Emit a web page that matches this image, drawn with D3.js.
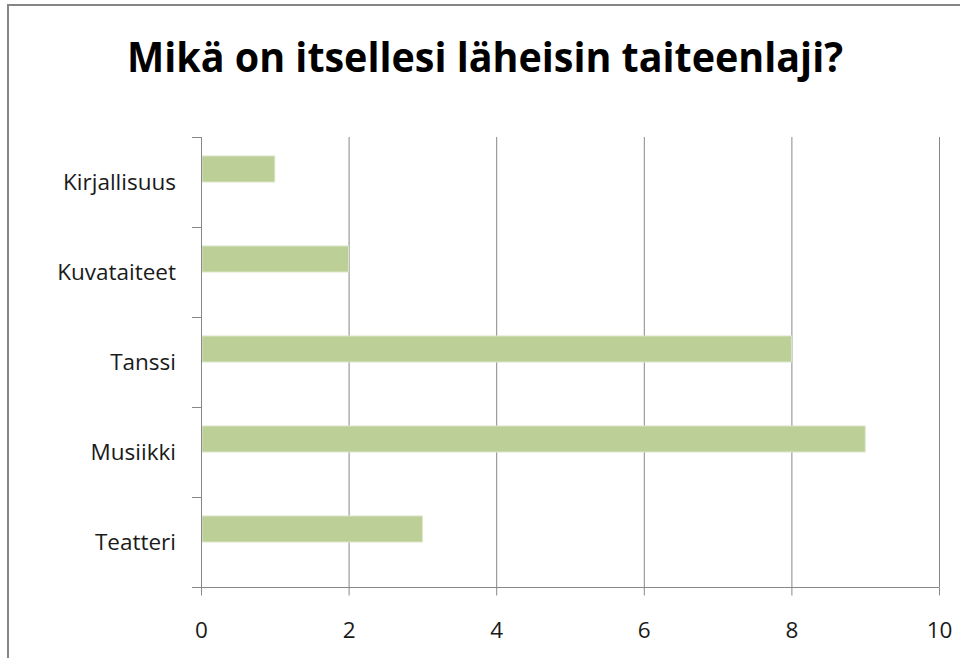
<!DOCTYPE html>
<html lang="fi">
<head>
  <meta charset="UTF-8" />
  <title>Mikä on itsellesi läheisin taiteenlaji?</title>
  <script src="https://d3js.org/d3.v7.min.js"></script>
  <style>
    body { margin: 0; padding: 0; background: #fff; }
    svg { display: block; }
    .title { font-family: "Open Sans", sans-serif; font-weight: bold; font-size: 42px; fill: #000; }
    .lbl { font-family: "Open Sans", sans-serif; font-size: 22.5px; fill: #1a1a1a; }
    .grid line { stroke: #878787; stroke-width: 1px; }
  </style>
</head>
<body>
  <svg width="960" height="658"></svg>

  <script>
  // Data
  const categories = ["Kirjallisuus", "Kuvataiteet", "Tanssi", "Musiikki", "Teatteri"];
  const counts = [1, 2, 8, 9, 3];
  const xTicks = [0, 2, 4, 6, 8, 10];
  const titleText = "Mikä on itsellesi läheisin taiteenlaji?";

  const svg = d3.select("svg");
  const W = 960, H = 658;
  const M = { left: 201, right: 21, top: 137, bottom: 71 };

  // outer frame (runs off the right / bottom edge like the screenshot)
  svg.append("rect")
    .attr("x", 8).attr("y", 5)
    .attr("width", W + 10).attr("height", H + 10)
    .attr("fill", "#fff").attr("stroke", "#868686").attr("stroke-width", 2);

  svg.append("text").attr("class", "title")
    .attr("x", 485).attr("y", 72)
    .attr("text-anchor", "middle")
    .attr("textLength", 716).attr("lengthAdjust", "spacingAndGlyphs")
    .text(titleText);

  const x = d3.scaleLinear().domain([0, 10]).range([M.left, W - M.right]);
  const y = d3.scaleBand().domain(categories).range([M.top, H - M.bottom]);
  // two slots per category, only the first one is used (second series empty)
  const slot = d3.scaleBand().domain([0, 1]).range([0, y.bandwidth()]).paddingOuter(0.73);

  // vertical gridlines
  svg.append("g").attr("class", "grid")
    .selectAll("line").data(xTicks.filter(d => d > 0)).enter().append("line")
    .attr("x1", d => x(d) + 0.5).attr("x2", d => x(d) + 0.5)
    .attr("y1", M.top).attr("y2", H - M.bottom);

  // bars
  svg.append("g").selectAll("rect").data(categories).enter().append("rect")
    .attr("x", x(0) + 1)
    .attr("y", d => y(d) + slot(0))
    .attr("width", (d, i) => x(counts[i]) - x(0) - 1)
    .attr("height", slot.bandwidth())
    .attr("fill", "#bbcf96")
    .attr("stroke", "#dbe6c8").attr("stroke-width", 1);

  // x axis
  const xAxis = svg.append("g")
    .attr("transform", `translate(0,${H - M.bottom + 0.5})`)
    .call(d3.axisBottom(x).tickValues(xTicks).tickSize(8).tickPadding(35).tickFormat(d3.format("d")));
  xAxis.select(".domain").attr("stroke", "#878787").attr("d", `M${M.left - 9},0H${W - M.right + 0.5}`);
  xAxis.selectAll(".tick line").attr("stroke", "#878787");
  xAxis.selectAll("text").attr("class", "lbl").attr("fill", "#1a1a1a").attr("dy", "0.35em");

  // y axis: ticks at category boundaries
  const bounds = categories.map(c => y(c)).concat([H - M.bottom]);
  const yg = svg.append("g");
  yg.append("line")
    .attr("x1", M.left + 0.5).attr("x2", M.left + 0.5)
    .attr("y1", M.top).attr("y2", H - M.bottom)
    .attr("stroke", "#878787");
  yg.selectAll(".tk").data(bounds).enter().append("line")
    .attr("x1", M.left - 9).attr("x2", M.left)
    .attr("y1", d => d + 0.5).attr("y2", d => d + 0.5)
    .attr("stroke", "#878787");
  yg.selectAll(".lbl").data(categories).enter().append("text")
    .attr("class", "lbl")
    .attr("x", M.left - 25)
    .attr("y", d => y(d) + y.bandwidth() / 2)
    .attr("dy", "0.35em")
    .attr("text-anchor", "end")
    .text(d => d);
  </script>
</body>
</html>
